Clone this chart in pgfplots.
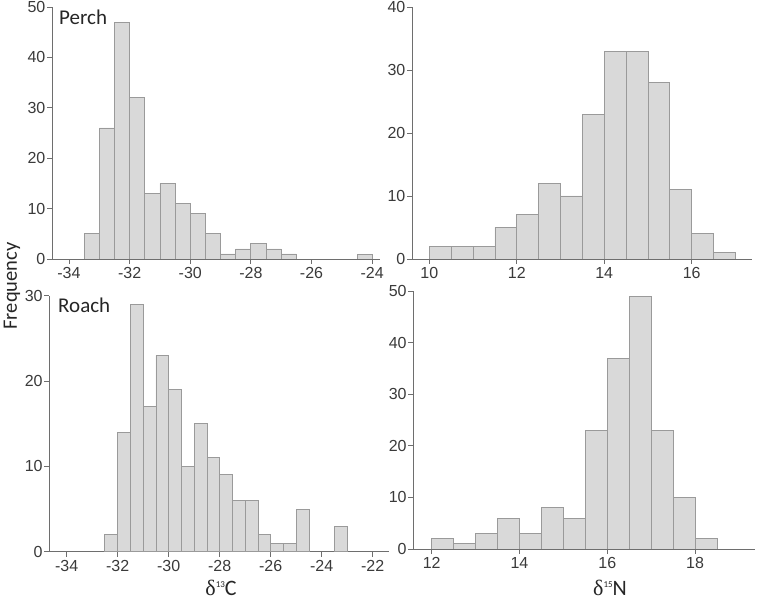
\documentclass[border=0pt]{standalone}
\usepackage{pgfplots}
\pgfplotsset{compat=1.18}
\usepackage{fontspec}
\setmainfont{Liberation Sans}
\newfontfamily\calfont{Carlito}
\newfontfamily\serfont{Liberation Serif}
\definecolor{barfill}{HTML}{D9D9D9}
\definecolor{baredge}{HTML}{9A9A9A}
\definecolor{axcol}{HTML}{6E6E6E}
\definecolor{txtcol}{HTML}{3A3A3A}
\pgfplotsset{
  hist/.style={
    scale only axis,
    anchor=south west,
    axis x line=bottom, axis y line=left,
    axis line style={axcol, line width=0.9pt, -},
    tick style={axcol, line width=0.9pt},
    tick align=outside, major tick length=5pt,
    ymin=0,
    tick label style={font=\fontsize{16}{16}\selectfont, text=txtcol, inner sep=1.5pt},
    xticklabel style={yshift=-2pt},
    /pgf/number format/assume math mode=true,
  },
  hbar/.style={ybar interval, fill=barfill, draw=baredge, line width=0.8pt},
}
\begin{document}
\begin{tikzpicture}[x=1pt,y=1pt]
\path[use as bounding box] (0,0) rectangle (760,602);

% Top left: Perch d13C
\begin{axis}[hist, at={(52pt,343pt)}, width=328pt, height=252pt,
  xmin=-34.56, xmax=-23.74, ymax=50,
  xtick={-34,-32,-30,-28,-26,-24}, ytick={0,10,20,30,40,50}]
\addplot[hbar] coordinates {(-33.5,5) (-33,26) (-32.5,47) (-32,32) (-31.5,13) (-31,15) (-30.5,11) (-30,9) (-29.5,5) (-29,1) (-28.5,2) (-28,3) (-27.5,2) (-27,1) (-26.5,0)};
\addplot[hbar] coordinates {(-24.5,1) (-24,0)};
\end{axis}

% Top right: Perch d15N
\begin{axis}[hist, at={(412pt,343pt)}, width=340pt, height=252pt,
  xmin=9.604, xmax=17.379, ymax=40,
  xtick={10,12,14,16}, ytick={0,10,20,30,40}]
\addplot[hbar] coordinates {(10,2) (10.5,2) (11,2) (11.5,5) (12,7) (12.5,12) (13,10) (13.5,23) (14,33) (14.5,33) (15,28) (15.5,11) (16,4) (16.5,1) (17,0)};
\end{axis}

% Bottom left: Roach d13C
\begin{axis}[hist, at={(49.3pt,50.3pt)}, width=339.7pt, height=256pt,
  xmin=-34.68, xmax=-21.36, ymax=30,
  xtick={-34,-32,-30,-28,-26,-24,-22}, ytick={0,10,20,30}]
\addplot[hbar] coordinates {(-32.5,2) (-32,14) (-31.5,29) (-31,17) (-30.5,23) (-30,19) (-29.5,10) (-29,15) (-28.5,11) (-28,9) (-27.5,6) (-27,6) (-26.5,2) (-26,1) (-25.5,1) (-25,5) (-24.5,0)};
\addplot[hbar] coordinates {(-23.5,3) (-23,0)};
\end{axis}

% Bottom right: Roach d15N
\begin{axis}[hist, at={(413.3pt,53pt)}, width=341.7pt, height=258pt,
  xmin=11.58, xmax=19.367, ymax=50,
  xtick={12,14,16,18}, ytick={0,10,20,30,40,50}]
\addplot[hbar] coordinates {(12,2) (12.5,1) (13,3) (13.5,6) (14,3) (14.5,8) (15,6) (15.5,23) (16,37) (16.5,49) (17,23) (17.5,10) (18,2) (18.5,0)};
\end{axis}

\node[anchor=base west, inner sep=0pt, text=black!85] at (59,577) {\calfont\fontsize{21}{21}\selectfont Perch};
\node[anchor=base west, inner sep=0pt, text=black!85] at (58,289) {\calfont\fontsize{21}{21}\selectfont Roach};
\node[rotate=90, inner sep=0pt, text=black!85] at (12,316) {\calfont\fontsize{20.5}{20.5}\selectfont Frequency};
\node[anchor=base, inner sep=0pt, text=black!85] at (221,6) {{\serfont\fontsize{22}{22}\selectfont δ}\raisebox{8pt}{\calfont\fontsize{9}{9}\selectfont 13}{\calfont\fontsize{22}{22}\selectfont C}};
\node[anchor=base, inner sep=0pt, text=black!85] at (610,6) {{\serfont\fontsize{22}{22}\selectfont δ}\raisebox{8pt}{\calfont\fontsize{9}{9}\selectfont 15}{\calfont\fontsize{22}{22}\selectfont N}};
\end{tikzpicture}
\end{document}
